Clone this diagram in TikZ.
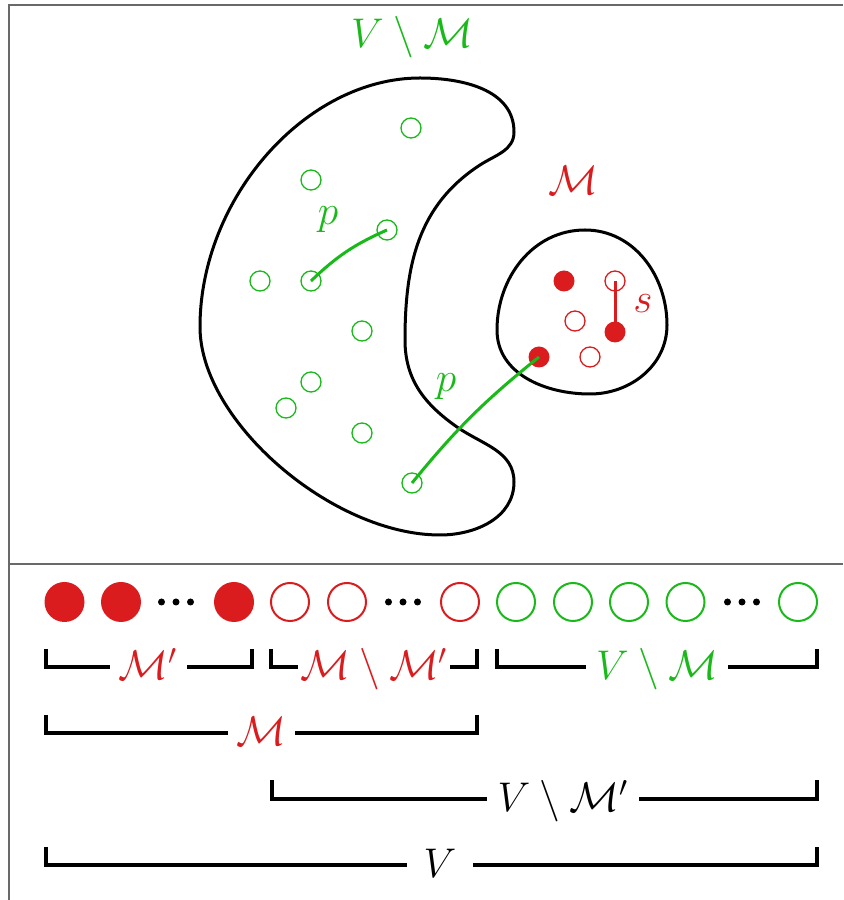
\documentclass[tikz,border=0pt]{standalone}
\definecolor{mygreen}{RGB}{25,185,25}
\definecolor{myred}{RGB}{218,28,30}
\definecolor{framegray}{RGB}{105,105,105}
\tikzset{
  lbl/.style={anchor=base, inner sep=0pt, font=\huge},
  gdot/.style={circle, draw=mygreen, line width=0.65pt, minimum size=10pt, inner sep=0pt},
  rdot/.style={circle, draw=myred, line width=0.65pt, minimum size=10pt, inner sep=0pt},
  rfill/.style={circle, fill=myred, minimum size=10.5pt, inner sep=0pt},
  bigrf/.style={circle, fill=myred, minimum size=20pt, inner sep=0pt},
  bigro/.style={circle, draw=myred, line width=1pt, minimum size=19pt, inner sep=0pt},
  biggo/.style={circle, draw=mygreen, line width=1pt, minimum size=19pt, inner sep=0pt},
  blob/.style={line width=1.5pt},
  gpath/.style={mygreen, line width=1.5pt},
  rpath/.style={myred, line width=1.5pt},
  brk/.style={line width=2pt},
  framel/.style={framegray, line width=0.75pt},
}
\begin{document}
\begin{tikzpicture}[x=0.5pt, y=0.5pt]
\useasboundingbox (0,0) rectangle (843,900);
% frame
\draw[framel] (843,895) -- (9,895) -- (9,0);
\draw[framel] (9,336) -- (843,336);

% top label
\node[lbl, mygreen] (tlab) at (412,852) {$V\setminus\mathcal{M}$};
\node[lbl, myred] (mlab) at (573,705) {$\mathcal{M}$};

% big blob V \ M
\draw[blob] (420,822) to[out=0,in=90] (514,768)
  to[out=-90,in=33] (480,735)
  to[out=-147,in=90] (405,560)
  to[out=-90,in=145] (457,473)
  to[out=-35,in=90] (514,418)
  to[out=-90,in=0] (440,365)
  .. controls (332,365) and (200,479) .. (200,573)
  .. controls (200,702) and (306,822) .. cycle;

% small blob M
\draw[blob] (585,670) to[out=180,in=90] (497,570)
  to[out=-90,in=180] (590,506)
  to[out=0,in=-90] (667,575)
  to[out=90,in=0] cycle;

% green vertices
\node[gdot] (g1) at (411,772) {};
\node[gdot] (g2) at (311,720) {};
\node[gdot] (g3) at (387,670) {};
\node[gdot] (g4) at (260,619) {};
\node[gdot] (g5) at (311,619) {};
\node[gdot] (g6) at (362,569) {};
\node[gdot] (g7) at (311,518) {};
\node[gdot] (g8) at (286,492) {};
\node[gdot] (g9) at (362,467) {};
\node[gdot] (g10) at (412,417) {};

% red vertices
\node[rfill] (r1) at (564,619) {};
\node[rdot]  (r2) at (615,619) {};
\node[rdot]  (r3) at (575,579) {};
\node[rfill] (r4) at (615,568) {};
\node[rfill] (r5) at (539,543) {};
\node[rdot]  (r6) at (590,543) {};

% paths
\draw[gpath] (g5.center) to[bend left=10] (g3.center);
\draw[gpath] (g10.center) to[bend left=6] (r5.center);
\draw[rpath] (r2.center) -- (r4.center);

\node[lbl, mygreen] (p1) at (328,675) {$p$};
\node[lbl, mygreen] (p2) at (446,508) {$p$};
\node[lbl, myred] (s1) at (643,587) {$s$};

% bottom row
\node[bigrf] (b1) at (64.5,298) {};
\node[bigrf] (b2) at (121,298) {};
\node[bigrf] (b3) at (234,298) {};
\node[bigro] (b4) at (290,298) {};
\node[bigro] (b5) at (347,298) {};
\node[bigro] (b6) at (460,298) {};
\node[biggo] (b7) at (516,298) {};
\node[biggo] (b8) at (573,298) {};
\node[biggo] (b9) at (629,298) {};
\node[biggo] (b10) at (685.5,298) {};
\node[biggo] (b11) at (798,298) {};
\foreach \cx in {176,403,742}{
  \fill (\cx-14.5,298) circle (3.5);
  \fill (\cx,298) circle (3.5);
  \fill (\cx+14.5,298) circle (3.5);
}

% brackets row 1
\draw[brk] (46,251) |- (110,233);
\draw[brk] (187,233) -| (252,251);
\node[lbl, myred] (l1) at (148,220) {$\mathcal{M}'$};
\draw[brk] (271,251) |- (298,233);
\draw[brk] (450,233) -| (477,251);
\node[lbl, myred] (l2) at (374,220) {$\mathcal{M}\setminus\mathcal{M}'$};
\draw[brk] (497,251) |- (586,233);
\draw[brk] (728,233) -| (817,251);
\node[lbl, mygreen] (l3) at (657,220) {$V\setminus\mathcal{M}$};
% row 2
\draw[brk] (46,185) |- (228,167);
\draw[brk] (295,167) -| (477,185);
\node[lbl, myred] (l4) at (261,154) {$\mathcal{M}$};
% row 3
\draw[brk] (272,120) |- (487,101);
\draw[brk] (639,101) -| (817,120);
\node[lbl] (l5) at (563,88) {$V\setminus\mathcal{M}'$};
% row 4
\draw[brk] (46,53) |- (407,35);
\draw[brk] (473,35) -| (817,53);
\node[lbl] (l6) at (440,22) {$V$};
\end{tikzpicture}
\end{document}
